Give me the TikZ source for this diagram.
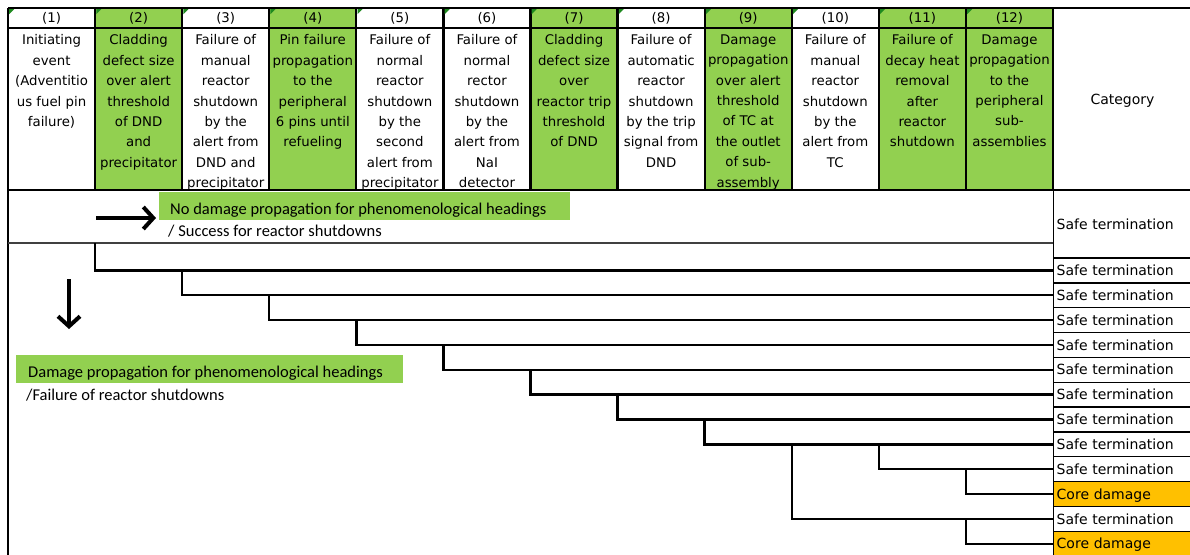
\documentclass[tikz,border=0pt]{standalone}
\usepackage{fontspec}
\setmainfont{DejaVu Sans}
\newfontfamily\calib{Carlito}
\usetikzlibrary{arrows.meta}
\definecolor{hgreen}{HTML}{92D050}
\definecolor{corange}{HTML}{FFC000}
\definecolor{trigreen}{HTML}{1F8A1F}
\tikzset{
  grid/.style={line width=2.2pt, black},
  divider/.style={line width=1.1pt, black!75},
  branch/.style={line width=2.4pt, black},
  bigarrow/.style={line width=4pt, -{Straight Barb[length=10pt,width=22pt]}},
  numtxt/.style={inner sep=0pt, font=\fontsize{13.3}{16}\selectfont},
  htxt/.style={align=center, anchor=north, inner sep=0pt, font=\fontsize{13.3}{20.4}\selectfont},
  catcell/.style={draw=black, line width=1.4pt, fill=white, minimum width=139pt, minimum height=24.85pt,
    anchor=west, text width=133pt, inner xsep=3pt, inner ysep=0pt, align=left,
    text height=10.2pt, text depth=0pt, font=\fontsize{14}{16}\selectfont},
  gbox/.style={fill=hgreen, inner sep=0pt, anchor=north west},
  ctext/.style={inner sep=0pt, anchor=base west, font=\calib\fontsize{16.5}{18}\selectfont},
}
\begin{document}
\begin{tikzpicture}[x=1pt,y=-1pt]
\useasboundingbox (0,0) rectangle (1190,554);
\fill[white] (0,0) rectangle (1190,554);
\def\cw{87.083}
% green header columns
\foreach \i in {2,4,7,9,11,12}{
  \fill[hgreen] ({8+(\i-1)*\cw},8) rectangle ({8+\i*\cw},190);
}
% column boundary coordinates
\foreach \i in {0,...,12}{ \coordinate (v\i) at ({8+\i*\cw},190); }
\coordinate (dv) at (8,243);
% header numbers
\foreach \i in {1,...,12}{
  \node[numtxt] (n\i) at ({8+(\i-0.5)*\cw},18.5) {(\i)};
}
% header texts
\foreach \i/\t in {
  1/{Initiating\\event\\(Adventitio\\us fuel pin\\failure)},
  2/{Cladding\\defect size\\over alert\\threshold\\of DND\\and\\precipitator},
  3/{Failure of\\manual\\reactor\\shutdown\\by the\\alert from\\DND and\\precipitator},
  4/{Pin failure\\propagation\\to the\\peripheral\\6 pins until\\refueling},
  5/{Failure of\\normal\\reactor\\shutdown\\by the\\second\\alert from\\precipitator},
  6/{Failure of\\normal\\rector\\shutdown\\by the\\alert from\\NaI\\detector},
  7/{Cladding\\defect size\\over\\reactor trip\\threshold\\of DND},
  8/{Failure of\\automatic\\reactor\\shutdown\\by the trip\\signal from\\DND},
  9/{Damage\\propagation\\over alert\\threshold\\of TC at\\the outlet\\of sub-\\assembly},
  10/{Failure of\\manual\\reactor\\shutdown\\by the\\alert from\\TC},
  11/{Failure of\\decay heat\\removal\\after\\reactor\\shutdown},
  12/{Damage\\propagation\\to the\\peripheral\\sub-\\assemblies}}{
  \node[htxt] (h\i) at ({8+(\i-0.5)*\cw},34.5) {\t};
}
% white cover below header (body background)
\fill[white] (8,191) rectangle (1190,554);
% grid
\draw[grid] (8,8) -- (1192,8);
\draw[grid] (8,28) -- (1053,28);
\draw[grid] (8,190) -- (1192,190);
\foreach \i in {1,...,11}{ \draw[grid] ({8+\i*\cw},8) -- ({8+\i*\cw},190); }
\draw[grid, line width=1.8pt] (8,8) -- (8,556);
\draw[grid] (1053,8) -- (1053,190);
% small indicator triangles
\foreach \i in {1,...,12}{
  \fill[trigreen] ({8+(\i-1)*\cw+1.2},9.2) -- ++(5,0) -- ++(-5,5) -- cycle;
}
\node[font=\fontsize{14}{16}\selectfont, inner sep=0pt] (cathead) at (1122.5,101) {Category};
% divider of success row
\draw[divider] (dv) -- (1053,243);
% category cells
\node[catcell, minimum height=68pt] (c0) at (1053,224) {Safe termination};
\node[catcell] (c1) at (1053,270.4) {Safe termination};
\node[catcell] (c2) at (1053,295.25) {Safe termination};
\node[catcell] (c3) at (1053,320.1) {Safe termination};
\node[catcell] (c4) at (1053,344.95) {Safe termination};
\node[catcell] (c5) at (1053,369.8) {Safe termination};
\node[catcell] (c6) at (1053,394.65) {Safe termination};
\node[catcell] (c7) at (1053,419.5) {Safe termination};
\node[catcell] (c8) at (1053,444.35) {Safe termination};
\node[catcell] (c9) at (1053,469.2) {Safe termination};
\node[catcell, fill=corange] (c10) at (1053,494.05) {Core damage};
\node[catcell] (c11) at (1053,518.9) {Safe termination};
\node[catcell, fill=corange] (c12) at (1053,543.75) {Core damage};
% event tree branches
\draw[branch] (v1 |- dv) |- (c1.west);
\draw[branch] (v2 |- c1.west) |- (c2.west);
\draw[branch] (v3 |- c2.west) |- (c3.west);
\draw[branch] (v4 |- c3.west) |- (c4.west);
\draw[branch] (v5 |- c4.west) |- (c5.west);
\draw[branch] (v6 |- c5.west) |- (c6.west);
\draw[branch] (v7 |- c6.west) |- (c7.west);
\draw[branch] (v8 |- c7.west) |- (c8.west);
\draw[branch] (v9 |- c8.west) |- (c11.west);
\draw[branch] (v10 |- c8.west) |- (c9.west);
\draw[branch] (v11 |- c9.west) |- (c10.west);
\draw[branch] (v11 |- c11.west) |- (c12.west);
% legends
\node[gbox, minimum width=411pt, minimum height=28pt] (g1) at (159,192) {};
\node[ctext] (t1) at (170,214) {No damage propagation for phenomenological headings};
\node[ctext] (t2) at (168,236) {/ Success for reactor shutdowns};
\node[gbox, minimum width=387pt, minimum height=28pt] (g2) at (16,355) {};
\node[ctext] (t3) at (28,377) {Damage propagation for phenomenological headings};
\node[ctext] (t4) at (26,400) {/Failure of reactor shutdowns};
% arrows
\coordinate (ra1) at (96,218);
\coordinate (ra2) at (156,218);
\draw[bigarrow] (ra1) -- (ra2);
\coordinate (da1) at (69,279);
\coordinate (da2) at (69,329);
\draw[bigarrow] (da1) -- (da2);
\end{tikzpicture}
\end{document}
